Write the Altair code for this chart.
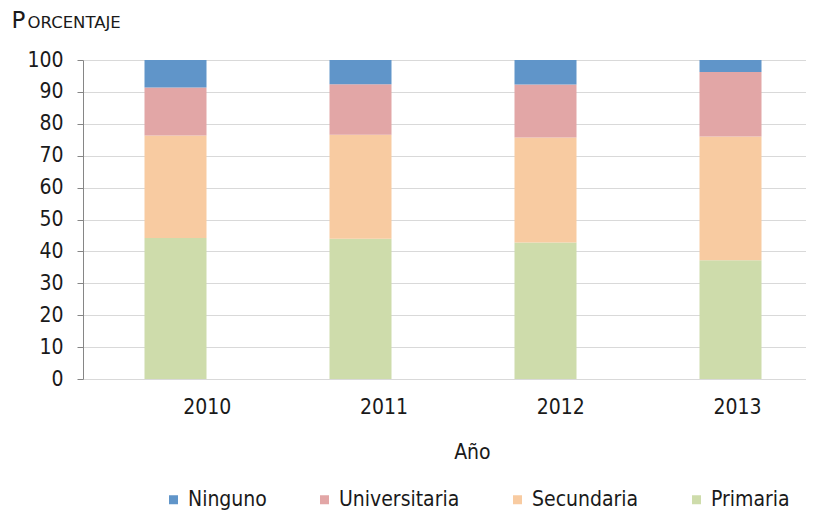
import altair as alt
import pandas as pd

years = ["2010", "2011", "2012", "2013"]
levels = ["Ninguno", "Universitaria", "Secundaria", "Primaria"]
primaria = [44.2, 44.0, 42.8, 37.2]
secundaria = [32.1, 32.6, 32.9, 38.8]
universitaria = [15.1, 15.8, 16.6, 20.2]
ninguno = [8.6, 7.6, 7.7, 3.8]
colors = ["#6095C9", "#E2A6A6", "#F8CBA1", "#CEDCAB"]

series = [("Primaria", primaria, 0), ("Secundaria", secundaria, 1),
          ("Universitaria", universitaria, 2), ("Ninguno", ninguno, 3)]
rows = []
for i, yr in enumerate(years):
    for name, vals, rank in series:
        rows.append({"year": yr, "nivel": name, "valor": vals[i], "orden": rank})
df = pd.DataFrame(rows)
df_years = pd.DataFrame({"year": years})

FONT = "Liberation Sans Narrow, DejaVu Sans Condensed, Roboto, sans-serif"
CAPS = "DejaVu Sans"

bars = alt.Chart(df).mark_bar(width=62).encode(
    x=alt.X("year:N",
            scale=alt.Scale(range=[0, 740], paddingInner=0, paddingOuter=0),
            axis=alt.Axis(orient="top", labels=False, ticks=False, domain=False, grid=False,
                          title="ORCENTAJE", titleAngle=0, titleX=-56, titleY=-33,
                          titleAlign="left", titleBaseline="alphabetic",
                          titleFont=CAPS, titleFontSize=16.5, titleFontWeight="normal",
                          titleColor="#1a1a1a")),
    y=alt.Y("valor:Q", stack="zero",
            scale=alt.Scale(domain=[0, 100], nice=False),
            axis=alt.Axis(values=list(range(0, 101, 10)), title="P", titleAngle=0,
                          titleX=-72, titleY=-33, titleAlign="left",
                          titleBaseline="alphabetic", titleFont=CAPS, titleFontSize=23,
                          titleFontWeight="normal", titleColor="#1a1a1a",
                          labelFont=FONT, labelFontSize=21, labelColor="#1a1a1a",
                          labelPadding=14, tickSize=6, tickColor="#868686",
                          domainColor="#868686", gridColor="#d9d9d9")),
    color=alt.Color("nivel:N", scale=alt.Scale(domain=levels, range=colors),
                    legend=alt.Legend(orient="none", legendX=80, legendY=429,
                                      direction="horizontal", columns=4, title=None,
                                      symbolType="square", symbolSize=81,
                                      symbolStrokeWidth=0, labelFont=FONT,
                                      labelFontSize=21, labelColor="#1a1a1a",
                                      columnPadding=47, labelOffset=4, padding=0)),
    order=alt.Order("orden:Q", sort="ascending"),
)

labels = alt.Chart(df_years).mark_point(opacity=0).encode(
    x=alt.X("year:N",
            scale=alt.Scale(range=[35.3, 742.5], paddingInner=0, paddingOuter=0),
            axis=alt.Axis(orient="bottom", title="Año", ticks=False, domain=False,
                          grid=False, labelAngle=0, labelFont=FONT, labelFontSize=21,
                          labelColor="#1a1a1a", labelPadding=17, titleFont=FONT,
                          titleFontSize=21, titleFontWeight="normal",
                          titleColor="#1a1a1a", titlePadding=24)),
    y=alt.value(0),
)

chart = alt.layer(bars, labels).resolve_scale(x="independent").resolve_axis(
    x="independent"
).properties(
    width=723, height=319,
    autosize=alt.AutoSizeParams(type="none"),
    padding={"left": 75, "top": 52, "right": 0, "bottom": 134},
).configure_view(stroke=None)

chart.save("out.html", embed_options={"renderer": "svg", "actions": False})
